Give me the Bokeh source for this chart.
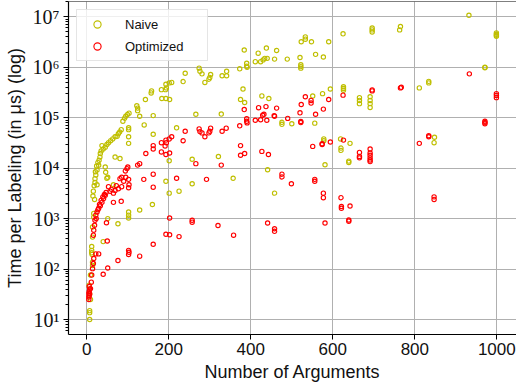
from bokeh.plotting import figure
from bokeh.models import (Range1d, SingleIntervalTicker, LogTicker, CustomJSTickFormatter, Span)
from bokeh.embed import file_html
from bokeh.resources import INLINE

# ---- data ----
naive_x = [932, 765, 763, 999, 999, 999, 999, 971, 971, 834, 834, 811, 848, 847,
           696, 696, 696, 625, 533, 533, 523, 548, 590, 463, 458, 489, 520, 558, 577,
           522, 522, 522, 626, 626, 626, 594, 575, 551, 665, 665, 665, 691, 691, 691, 691,
           476, 476, 500, 556, 578, 578, 619, 620, 620, 642, 581, 639, 639, 458,
           384, 418, 438, 411, 424, 430, 434, 440, 390, 390, 391, 373, 341, 341, 330,
           302, 300, 298, 288, 274, 276, 281, 240, 235, 207, 201, 193, 194, 182, 192,
           183, 193, 202, 381, 375, 385, 444, 427, 266, 328, 162, 219, 162, 257, 321, 201, 441,
           193, 201, 225, 257, 357, 160,
           158, 157, 143, 122, 124, 124, 103, 99, 95, 92, 88, 129, 140, 102, 102, 102, 102,
           84, 80, 77, 74, 69, 63, 58, 53, 49, 45, 37, 69, 81, 33, 32, 30, 29, 25, 22, 20,
           46, 51, 45, 20, 18, 49, 65, 25, 19, 129, 102, 102, 102, 51, 76, 17, 17, 14, 14,
           40, 12, 12, 12, 13, 14, 14, 9, 6, 9, 7, 7, 7, 7,
           16, 15, 21, 24, 27, 35, 40]
naive_y = [1.07e7, 6.4e6, 5.5e6, 4.8e6, 4.5e6, 4.3e6, 4.1e6, 1.0e6, 0.98e6, 5.25e5, 4.9e5, 3.9e5, 4.1e4, 3.2e4,
           6.0e6, 5.5e6, 5.0e6, 4.6e6, 4.0e6, 3.6e6, 3.2e6, 3.2e6, 3.2e6, 2.15e6, 1.45e6, 1.45e6, 1.56e6, 1.8e6, 1.6e6,
           1.12e6, 1.03e6, 0.96e6, 4.1e5, 3.8e5, 3.5e5, 3.7e5, 3.0e5, 2.7e5, 2.5e5, 2.2e5, 1.9e5, 2.6e5, 2.2e5, 1.9e5, 1.6e5,
           8.1e4, 7.4e4, 7.6e4, 7.8e4, 3.8e4, 3.5e4, 3.8e4, 2.5e4, 2.25e4, 3.1e4, 1.17e4, 1.38e4, 1.3e4, 3.2e3,
           2.2e6, 1.9e6, 2.4e6, 1.29e6, 1.29e6, 1.4e6, 1.5e6, 1.5e6, 1.2e6, 1.05e6, 1.0e6, 9.3e5, 8.3e5, 6.8e5, 6.8e5,
           7.2e5, 6.3e5, 5.8e5, 5.0e5, 9.6e5, 8.3e5, 7.4e5, 7.6e5, 5.2e5, 5.0e5, 4.9e5, 4.6e5, 3.9e5, 3.6e5, 3.6e5,
           2.4e5, 2.4e5, 2.3e5, 3.7e5, 2.3e5, 2.0e5, 2.4e5, 2.7e5, 1.17e5, 1.18e5, 1.1e5, 6.3e4, 4.7e4, 1.5e4, 1.7e4, 1.4e4, 9.3e3,
           5.5e3, 3.2e3, 3.5e3, 4.9e3, 6.3e3, 1.9e3,
           3.4e5, 3.1e5, 2.3e5, 1.73e5, 1.55e5, 1.38e5, 1.23e5, 1.16e5, 1.07e5, 9.8e4, 8.5e4, 1.07e5, 7.2e4, 6.3e4, 5.8e4, 4.2e4, 3.1e4,
           5.8e4, 5.2e4, 4.8e4, 4.3e4, 4.2e4, 3.8e4, 3.5e4, 3.2e4, 2.95e4, 2.6e4, 2.8e4, 1.66e4, 1.55e4, 1.95e4, 1.66e4, 1.43e4, 1.14e4, 9.2e3, 7.3e3, 6.2e3,
           8.3e3, 6.6e3, 1.05e4, 5.2e3, 4.5e3, 6.3e3, 4.7e3, 4.7e3, 2.4e3, 1.48e3, 1.35e3, 1.17e3, 1.03e3, 1.0e3, 7.9e2, 1.27e3, 1.07e3, 6.8e2, 4.3e2,
           3.5e2, 2.8e2, 2.35e2, 2.1e2, 1.95e2, 1.37e2, 1.18e2, 76, 48, 25, 32, 15, 13.7, 10,
           3.5e3, 2.8e3, 8.5e3, 1.1e4, 1.3e4, 2.2e4, 2.4e4]

opt_x = [933, 765, 767, 999, 999, 999, 971, 971, 971, 834, 834, 811, 847, 847,
         696, 696, 625, 533, 547, 547, 590, 463, 523, 577, 458, 520, 558, 490, 522, 522,
         594, 574, 574, 551, 626, 665, 665, 665, 691, 691, 691, 691, 691, 691,
         476, 476, 499, 556, 556, 577, 577, 620, 621, 621, 642, 581, 639, 639, 458, 458, 441,
         162, 162, 219, 292, 202, 257, 257, 320, 358, 193, 202, 225, 162,
         384, 419, 437, 390, 390, 391, 411, 424, 429, 432, 439, 457, 373, 340, 330,
         302, 300, 298, 288, 274, 276, 281, 240, 235, 207, 201, 193, 194, 191, 182, 182, 193, 202,
         162, 162, 375, 385, 375, 443, 427, 266, 328,
         144, 129, 124, 100, 98, 94, 85, 81, 139,
         95, 102, 103, 102, 85, 77, 69, 57, 53, 65, 65, 84,
         45, 41, 37, 33, 29, 25, 22, 20, 19, 17, 16, 48, 50, 22, 29,
         17, 16, 14, 12, 11, 9, 7, 102, 102, 103, 129, 76, 51, 40,
         5, 5, 6, 5, 6, 7, 6,
         23, 27, 31, 35, 39, 43, 47, 60, 72, 90]
opt_y = [7.4e5, 3.9e5, 4.0e5, 3.0e5, 2.75e5, 2.5e5, 8.5e4, 8.0e4, 7.6e4, 4.4e4, 4.2e4, 3.1e4, 2.7e3, 2.4e3,
         3.56e5, 3.4e5, 2.8e5, 2.6e5, 2.2e5, 1.95e5, 2.3e5, 1.55e5, 1.83e5, 1.48e5, 1.07e5, 1.25e5, 1.17e5, 9.7e4, 8.4e4, 8.0e4,
         3.3e4, 2.95e4, 3.05e4, 2.7e4, 3.6e4, 2.05e4, 1.7e4, 1.6e4, 2.4e4, 2.0e4, 1.8e4, 1.6e4, 1.45e4, 1.35e4,
         7.6e3, 6.7e3, 4.9e3, 6.0e3, 5.5e3, 3.2e3, 2.6e3, 2.6e3, 1.74e3, 1.6e3, 1.78e3, 8.2e2, 9.4e2, 8.9e2, 6.3e2, 5.6e2, 8.2e2,
         7.6e3, 4.2e3, 6.3e3, 6.0e3, 1.03e3, 9.3e2, 8.5e2, 7.3e2, 4.7e2, 4.9e2, 4.8e2, 4.4e2, 3.1e2,
         1.45e5, 1.58e5, 1.66e5, 9.5e4, 8.5e4, 7.9e4, 8.9e4, 9.1e4, 1.12e5, 1.17e5, 8.9e4, 1.1e5, 6.9e4, 6.2e4, 5.4e4,
         6.2e4, 5.4e4, 5.0e4, 4.2e4, 6.0e4, 5.3e4, 5.0e4, 5.4e4, 3.5e4, 4.2e4, 3.8e4, 3.6e4, 3.2e4, 2.75e4, 3.2e4, 2.1e4, 1.87e4, 2.0e4,
         2.8e4, 2.4e4, 2.8e4, 1.95e4, 1.8e4, 1.87e4, 2.15e4, 1.23e4, 1.15e4,
         1.95e4, 1.23e4, 1.15e4, 1.05e4, 9.8e3, 8.8e3, 6.6e3, 6.2e3, 6.0e3,
         6.6e3, 6.0e3, 4.7e3, 4.1e3, 4.3e3, 3.9e3, 3.6e3, 3.5e3, 4.3e3, 3.2e3, 2.1e3, 2.2e3,
         2.9e3, 2.5e3, 2.1e3, 1.8e3, 1.6e3, 1.35e3, 1.17e3, 9.3e2, 7.4e2, 5.9e2, 4.7e2, 8.3e2, 3.6e2, 2.0e2, 2.0e2,
         162, 129, 102, 76, 55, 41, 32, 2.35e2, 1.95e2, 2.15e2, 1.8e2, 1.48e2, 1.05e2, 79,
         25, 28, 30, 33, 36, 40, 45,
         1.0e3, 1.5e3, 1.9e3, 2.3e3, 2.7e3, 3.0e3, 3.3e3, 3.8e3, 4.5e3, 5.5e3]

x_ticks_interval = 200
series_names = ["Naive", "Optimized"]
x_label = "Number of Arguments"
y_label = "Time per Labeling (in μs) (log)"

X_START, X_END = -44.6, 1048
Y_START, Y_END = 5.05, 2.01e7

p = figure(width=516, height=387, output_backend="svg", toolbar_location=None,
           y_axis_type="log",
           x_range=Range1d(X_START, X_END), y_range=Range1d(Y_START, Y_END),
           min_border_left=68, min_border_right=0, min_border_top=1, min_border_bottom=53)

p.background_fill_color = "white"
p.border_fill_color = "white"
p.outline_line_color = None

p.scatter(naive_x, naive_y, marker="circle", size=4.3, fill_color=None,
          line_color="#bfbf00", line_width=1.15, legend_label=series_names[0])
p.scatter(opt_x, opt_y, marker="circle", size=4.3, fill_color=None,
          line_color="#ff0000", line_width=1.15, legend_label=series_names[1])

# top spine
p.add_layout(Span(location=Y_END, dimension="width", line_color="black", line_width=1.2))

# grid
for g in (p.xgrid, p.ygrid):
    g.grid_line_color = "#b0b0b0"
    g.grid_line_width = 1

# x axis
xa = p.xaxis[0]
xa.ticker = SingleIntervalTicker(interval=x_ticks_interval, num_minor_ticks=0)
xa.axis_label = x_label
xa.axis_label_text_font = "Liberation Sans"
xa.axis_label_text_font_size = "18px"
xa.axis_label_text_font_style = "normal"
xa.axis_label_text_color = "#111111"
xa.axis_label_standoff = 4
xa.major_label_text_font = "Liberation Sans"
xa.major_label_text_font_size = "17px"
xa.major_label_text_color = "#111111"
xa.major_label_standoff = 3
xa.major_tick_in = 0
xa.major_tick_out = 5
xa.minor_tick_line_color = None
xa.axis_line_color = "black"
xa.axis_line_width = 1.2
xa.major_tick_line_color = "black"

# y axis
ya = p.yaxis[0]
ya.ticker = LogTicker(num_minor_ticks=10)
ya.formatter = CustomJSTickFormatter(code="""
const sup = {"0":"\u2070","1":"\u00b9","2":"\u00b2","3":"\u00b3","4":"\u2074","5":"\u2075","6":"\u2076","7":"\u2077","8":"\u2078","9":"\u2079","-":"\u207b"};
const e = Math.round(Math.log10(tick));
return "10" + String(e).split("").map(c => sup[c]).join("");
""")
ya.axis_label = y_label
ya.axis_label_text_font = "Liberation Sans"
ya.axis_label_text_font_size = "18px"
ya.axis_label_text_font_style = "normal"
ya.axis_label_text_color = "#111111"
ya.axis_label_standoff = 5
ya.major_label_text_font = "Liberation Serif"
ya.major_label_text_font_size = "20px"
ya.major_label_text_color = "#111111"
ya.major_label_standoff = 4
ya.major_tick_in = 0
ya.major_tick_out = 5
ya.minor_tick_in = 0
ya.minor_tick_out = 3
ya.axis_line_color = "black"
ya.axis_line_width = 1.2
ya.major_tick_line_color = "black"
ya.minor_tick_line_color = "black"

# legend
lg = p.legend[0]
lg.location = "top_left"
lg.margin = 8
lg.padding = 5
lg.spacing = 4
lg.glyph_width = 30
lg.glyph_height = 18
lg.label_height = 18
lg.label_width = 77
lg.label_standoff = 13
lg.label_text_font = "Liberation Sans"
lg.label_text_font_size = "13px"
lg.label_text_color = "#111111"
lg.border_line_color = "#cccccc"
lg.border_line_width = 1
lg.background_fill_color = "white"
lg.background_fill_alpha = 0.8

with open("out.html", "w", encoding="utf-8") as f:
    f.write(file_html(p, INLINE))
